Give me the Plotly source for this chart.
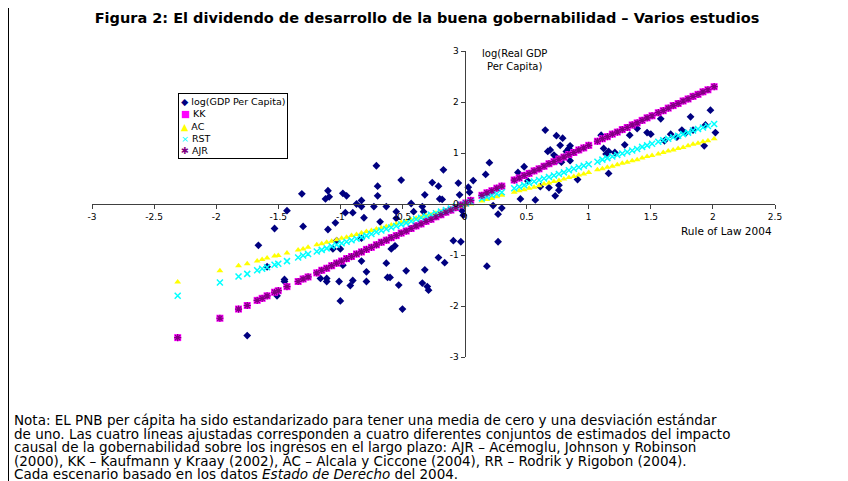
import plotly.graph_objects as go

# ---- Data ----
# Scatter: log(GDP per capita) vs Rule of Law 2004
gdp_x = [-1.75, -1.66, -1.59, -1.53, -1.51, -1.45, -1.45, -1.43, -1.31, -1.30,
         -1.16, -1.11, -1.11, -1.12, -1.09, -1.10, -1.10, -1.06, -1.04, -1.03,
         -1.00, -1.01, -1.00, -0.98, -0.95, -0.98, -0.96, -0.90, -0.92, -0.90,
         -0.87, -0.83, -0.83, -0.81, -0.83, -0.83, -0.79, -0.79, -0.71, -0.70,
         -0.70, -0.73, -0.68, -0.63, -0.63, -0.62, -0.60, -0.59, -0.56, -0.55,
         -0.55, -0.53, -0.51, -0.50, -0.47, -0.43, -0.41, -0.34, -0.33, -0.32,
         -0.32, -0.34, -0.30, -0.29, -0.26, -0.21, -0.21, -0.17, -0.20, -0.18,
         -0.16, -0.09, -0.05, -0.04, -0.03, -0.02, -0.01, 0.03, 0.04, 0.07,
         0.17, 0.20, 0.23, 0.30, 0.27, 0.27, 0.18, 0.43, 0.48, 0.51,
         0.45, 0.57, 0.61, 0.65, 0.67, 0.69, 0.74, 0.79, 0.72, 0.74,
         0.77, 0.85, 0.82, 0.84, 0.78, 0.75, 0.85, 0.76, 0.76, 0.73,
         0.68, 0.91, 1.10, 1.12, 1.14, 1.16, 1.21, 1.16, 1.33, 1.29,
         1.39, 1.47, 1.50, 1.58, 1.61, 1.66, 1.71, 1.75, 1.78, 1.84,
         1.82, 1.94, 1.98, 2.02, 1.93]
gdp_y = [-2.58, -0.81, -1.23, -0.48, -1.80, -1.48, -1.52, -0.13, 0.20, -0.44,
         -1.46, -1.46, -1.52, 0.10, 0.14, 0.26, -0.50, -0.88, -0.37, -0.72,
         -0.88, -1.52, -1.90, 0.21, 0.16, -1.20, -0.17, -0.17, -1.60, -1.50,
         0.00, 0.07, -0.05, -0.27, -0.67, -1.12, -1.33, -1.52, 0.75, 0.35,
         0.16, -0.05, -0.35, -0.05, -1.16, -1.44, -1.44, -0.88, -0.82, -0.15,
         -0.28, -1.59, 0.47, -2.06, -1.31, 0.01, -0.15, -0.05, -0.15, 0.18,
         -1.29, -1.55, -1.62, -1.69, 0.42, 0.35, -1.05, 0.67, 0.10, 0.09,
         -1.15, -0.72, 0.41, 0.18, -0.74, -0.13, -0.22, 0.33, 0.23, 0.46,
         0.58, 0.81, -0.03, -0.08, -0.20, -0.74, -1.22, 0.62, 0.73, 0.45,
         0.10, 0.08, 0.34, 1.45, 1.03, 1.06, 1.34, 1.29, 0.96, 0.91,
         1.15, 1.14, 1.03, 1.09, 0.82, 0.86, 0.85, 0.37, 0.27, 0.16,
         0.32, 0.48, 1.35, 1.09, 0.98, 1.03, 1.01, 0.60, 1.35, 1.16,
         1.48, 1.40, 1.37, 1.67, 1.24, 1.37, 1.31, 1.45, 1.39, 1.45,
         1.71, 1.55, 1.84, 1.40, 1.14]

# Fitted values of the four studies at each country's Rule of Law score
fit_x = [-2.31, -1.97, -1.82, -1.75, -1.67, -1.63, -1.59, -1.53, -1.50, -1.43,
         -1.34, -1.30, -1.26, -1.19, -1.15, -1.11, -1.07, -1.03, -0.99, -0.95,
         -0.91, -0.87, -0.83, -0.79, -0.75, -0.71, -0.67, -0.63, -0.59, -0.55,
         -0.51, -0.47, -0.43, -0.39, -0.35, -0.31, -0.27, -0.23, -0.19, -0.15,
         -0.11, -0.07, -0.03, 0.01, 0.05, 0.14, 0.18, 0.22, 0.26, 0.30,
         0.40, 0.44, 0.48, 0.52, 0.56, 0.60, 0.64, 0.68, 0.72, 0.76,
         0.80, 0.84, 0.88, 0.92, 0.96, 1.00, 1.07, 1.11, 1.15, 1.19,
         1.23, 1.27, 1.31, 1.35, 1.39, 1.43, 1.47, 1.51, 1.56, 1.60,
         1.64, 1.68, 1.72, 1.76, 1.80, 1.84, 1.88, 1.92, 1.96, 2.01]
kk_fit = [-2.62, -2.24, -2.06, -1.99, -1.89, -1.85, -1.80, -1.73, -1.70, -1.62,
          -1.52, -1.47, -1.43, -1.35, -1.30, -1.26, -1.21, -1.16, -1.12, -1.07,
          -1.03, -0.98, -0.94, -0.89, -0.85, -0.80, -0.75, -0.71, -0.66, -0.62,
          -0.57, -0.53, -0.48, -0.43, -0.39, -0.34, -0.30, -0.25, -0.21, -0.16,
          -0.12, -0.07, -0.02, 0.02, 0.07, 0.17, 0.22, 0.26, 0.31, 0.35,
          0.47, 0.51, 0.56, 0.60, 0.65, 0.69, 0.74, 0.79, 0.83, 0.88,
          0.92, 0.97, 1.01, 1.06, 1.10, 1.15, 1.23, 1.28, 1.32, 1.37,
          1.41, 1.46, 1.50, 1.55, 1.59, 1.64, 1.69, 1.73, 1.79, 1.83,
          1.88, 1.93, 1.97, 2.02, 2.06, 2.11, 2.15, 2.20, 2.24, 2.30]
ac_fit = [-1.53, -1.31, -1.21, -1.17, -1.12, -1.09, -1.06, -1.02, -1.01, -0.96,
          -0.90, -0.88, -0.85, -0.80, -0.78, -0.75, -0.73, -0.70, -0.67, -0.65,
          -0.62, -0.60, -0.57, -0.54, -0.52, -0.49, -0.47, -0.44, -0.41, -0.39,
          -0.36, -0.34, -0.31, -0.28, -0.26, -0.23, -0.21, -0.18, -0.15, -0.13,
          -0.10, -0.08, -0.05, -0.02, 0.00, 0.06, 0.09, 0.11, 0.14, 0.17,
          0.23, 0.26, 0.28, 0.31, 0.33, 0.36, 0.39, 0.41, 0.44, 0.46,
          0.49, 0.52, 0.54, 0.57, 0.59, 0.62, 0.67, 0.69, 0.72, 0.74,
          0.77, 0.80, 0.82, 0.85, 0.87, 0.90, 0.93, 0.95, 0.98, 1.01,
          1.04, 1.06, 1.09, 1.11, 1.14, 1.17, 1.19, 1.22, 1.24, 1.28]
rst_fit = [-1.80, -1.54, -1.42, -1.37, -1.30, -1.27, -1.24, -1.19, -1.17, -1.12,
           -1.05, -1.01, -0.98, -0.93, -0.90, -0.87, -0.83, -0.80, -0.77, -0.74,
           -0.71, -0.68, -0.65, -0.62, -0.59, -0.55, -0.52, -0.49, -0.46, -0.43,
           -0.40, -0.37, -0.34, -0.30, -0.27, -0.24, -0.21, -0.18, -0.15, -0.12,
           -0.09, -0.05, -0.02, 0.01, 0.04, 0.11, 0.14, 0.17, 0.20, 0.23,
           0.31, 0.34, 0.37, 0.41, 0.44, 0.47, 0.50, 0.53, 0.56, 0.59,
           0.62, 0.66, 0.69, 0.72, 0.75, 0.78, 0.83, 0.87, 0.90, 0.93,
           0.96, 0.99, 1.02, 1.05, 1.08, 1.12, 1.15, 1.18, 1.22, 1.25,
           1.28, 1.31, 1.34, 1.37, 1.40, 1.44, 1.47, 1.50, 1.53, 1.57]
ajr_fit = [-2.62, -2.24, -2.06, -1.99, -1.89, -1.85, -1.80, -1.73, -1.70, -1.62,
           -1.52, -1.47, -1.43, -1.35, -1.30, -1.26, -1.21, -1.16, -1.12, -1.07,
           -1.03, -0.98, -0.94, -0.89, -0.85, -0.80, -0.75, -0.71, -0.66, -0.62,
           -0.57, -0.53, -0.48, -0.43, -0.39, -0.34, -0.30, -0.25, -0.21, -0.16,
           -0.12, -0.07, -0.02, 0.02, 0.07, 0.17, 0.22, 0.26, 0.31, 0.35,
           0.47, 0.51, 0.56, 0.60, 0.65, 0.69, 0.74, 0.79, 0.83, 0.88,
           0.92, 0.97, 1.01, 1.06, 1.10, 1.15, 1.23, 1.28, 1.32, 1.37,
           1.41, 1.46, 1.50, 1.55, 1.59, 1.64, 1.69, 1.73, 1.79, 1.83,
           1.88, 1.93, 1.97, 2.02, 2.06, 2.11, 2.15, 2.20, 2.24, 2.30]

x_tickvals = [-3, -2.5, -2, -1.5, -1, -0.5, 0, 0.5, 1, 1.5, 2, 2.5]
x_ticktext = ["-3", "-2.5", "-2", "-1.5", "-1", "-0.5", "0", "0.5", "1", "1.5", "2", "2.5"]
y_tickvals = [-3, -2, -1, 0, 1, 2, 3]
y_ticktext = ["-3", "-2", "-1", "0", "1", "2", "3"]

series_names = ["log(GDP Per Capita)", "KK", "AC", "RST", "AJR"]

title_text = "Figura 2: El dividendo de desarrollo de la buena gobernabilidad \u2013 Varios estudios"
note_lines = [
    "Nota: EL PNB per cápita ha sido estandarizado para tener una media de cero y una desviación estándar",
    "de uno. Las cuatro líneas ajustadas corresponden a cuatro diferentes conjuntos de estimados del impacto",
    "causal de la gobernabilidad sobre los ingresos en el largo plazo: AJR \u2013 Acemoglu, Johnson y Robinson",
    "(2000), KK \u2013 Kaufmann y Kraay (2002), AC \u2013 Alcala y Ciccone (2004), RR \u2013 Rodrik y Rigobon (2004).",
    "Cada escenario basado en los datos <i>Estado de Derecho</i> del 2004.",
]

FONT = "DejaVu Sans, Arial, sans-serif"
NAVY, MAGENTA, YELLOW, CYAN, PURPLE = "#000080", "#FF00FF", "#FFFF00", "#00FFFF", "#800080"

fig = go.Figure()
fig.add_trace(go.Scatter(x=gdp_x, y=gdp_y, mode="markers", name=series_names[0],
                         marker=dict(symbol="diamond", size=6, color=NAVY)))
fig.add_trace(go.Scatter(x=fit_x, y=kk_fit, mode="markers", name=series_names[1],
                         marker=dict(symbol="square", size=7, color=MAGENTA)))
fig.add_trace(go.Scatter(x=fit_x, y=ac_fit, mode="markers", name=series_names[2],
                         marker=dict(symbol="triangle-up", size=6, color=YELLOW)))
fig.add_trace(go.Scatter(x=fit_x, y=rst_fit, mode="markers", name=series_names[3],
                         marker=dict(symbol="x-thin-open", size=6, color=CYAN,
                                     line=dict(color=CYAN, width=1.5))))
fig.add_trace(go.Scatter(x=fit_x, y=ajr_fit, mode="markers", name=series_names[4],
                         marker=dict(symbol="asterisk-open", size=6, color=PURPLE,
                                     line=dict(color=PURPLE, width=1.2))))

# The page puts the figure 8 px from the window's top-left corner.
OFF = 8
W, H = 848 - OFF, 481 - OFF
# plot area in window pixels
PL, PR, PT, PB = 92, 775, 51, 357


def px_x(p):
    return (p - PL) / (PR - PL)


def px_y(p):
    return (PB - p) / (PB - PT)


legend_text = "<br>".join([
    f"<span style='color:{NAVY}'>\u25C6</span> {series_names[0]}",
    f"<span style='color:{MAGENTA}'>\u25A0</span> {series_names[1]}",
    f"<span style='color:{YELLOW}'>\u25B2</span> {series_names[2]}",
    f"<span style='color:{CYAN}'>\u00D7</span> {series_names[3]}",
    f"<span style='color:{PURPLE}'>\u2731</span> {series_names[4]}",
])

annotations = [
    dict(text="log(Real GDP<br>Per Capita)", x=0.40, y=2.82, xref="x", yref="y",
         showarrow=False, font=dict(family=FONT, size=10, color="black"), align="center"),
    dict(text="Rule of Law 2004", x=2.11, y=-0.53, xref="x", yref="y",
         showarrow=False, font=dict(family=FONT, size=10.5, color="black")),
    dict(text=legend_text, x=px_x(178), y=px_y(93), xref="paper", yref="paper",
         xanchor="left", yanchor="top", align="left", showarrow=False,
         bordercolor="black", borderwidth=1, borderpad=2, bgcolor="white",
         font=dict(family=FONT, size=9.5, color="black")),
]
note_y = [420, 433.5, 447, 460.5, 473.5]
for line, py in zip(note_lines, note_y):
    annotations.append(dict(text=line, x=px_x(12), y=px_y(py), xref="paper", yref="paper",
                            xanchor="left", yanchor="middle", align="left", showarrow=False,
                            font=dict(family=FONT, size=13.5, color="black")))

axis_common = dict(showgrid=False, zeroline=False, showline=True, linecolor="#404040",
                   linewidth=1, ticks="outside", ticklen=4, tickcolor="#404040",
                   tickfont=dict(family=FONT, size=9, color="black"), anchor="free")

fig.update_layout(
    width=W, height=H, autosize=False,
    margin=dict(l=PL - OFF, r=W - (PR - OFF), t=PT - OFF, b=H - (PB - OFF), pad=0),
    paper_bgcolor="white", plot_bgcolor="white",
    showlegend=False,
    title=dict(text=f"<b>{title_text}</b>", x=(427 - OFF) / W, xref="container",
               xanchor="center", y=1 - (18 - OFF) / H, yref="container", yanchor="middle",
               font=dict(family=FONT, size=14.5, color="black")),
    xaxis=dict(range=[-3, 2.5], tickvals=x_tickvals, ticktext=x_ticktext,
               position=0.5, **axis_common),
    yaxis=dict(range=[-3, 3], tickvals=y_tickvals, ticktext=y_ticktext,
               position=3 / 5.5, **axis_common),
    annotations=annotations,
    shapes=[dict(type="line", xref="paper", yref="paper",
                 x0=px_x(OFF + 0.5), x1=px_x(OFF + 0.5), y0=px_y(OFF), y1=px_y(481),
                 line=dict(color="black", width=1))],
)

fig.write_html("out.html")
